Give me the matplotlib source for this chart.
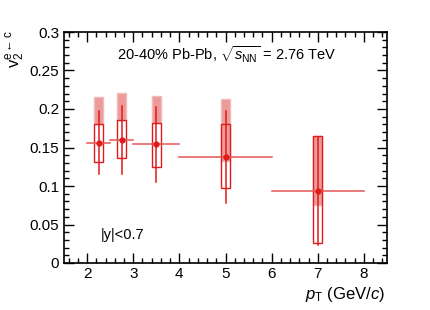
import matplotlib
matplotlib.use("Agg")
import matplotlib.pyplot as plt
from matplotlib.patches import Rectangle
from matplotlib.ticker import MultipleLocator, FuncFormatter

plt.rcParams['font.family'] = ['Liberation Sans', 'DejaVu Sans']
plt.rcParams['mathtext.fontset'] = 'custom'
plt.rcParams['mathtext.rm'] = 'Liberation Sans'
plt.rcParams['mathtext.it'] = 'Liberation Sans:italic'
plt.rcParams['mathtext.bf'] = 'Liberation Sans:bold'

# data
bin_lo = [2.0, 2.5, 3.0, 4.0, 6.0]
bin_hi = [2.5, 3.0, 4.0, 6.0, 8.0]
pt = [2.25, 2.75, 3.5, 5.0, 7.0]
v2 = [0.156, 0.160, 0.154, 0.138, 0.094]
stat = [0.041, 0.044, 0.049, 0.060, 0.070]
sys_lo = [0.131, 0.136, 0.125, 0.098, 0.026]
sys_hi = [0.181, 0.186, 0.182, 0.180, 0.165]
fill_lo = [0.181, 0.186, 0.182, 0.132, 0.075]
fill_hi = [0.215, 0.221, 0.217, 0.213, 0.165]

box_hw = 0.1
red = '#e01b1b'
xbar_col = '#e65555'

fig = plt.figure(figsize=(4.3, 3.1), dpi=100)
ax = fig.add_axes([64/430, 1-263/310, (387-64)/430, (263-32)/310])

for i in range(len(pt)):
    ax.add_patch(Rectangle((pt[i]-box_hw, fill_lo[i]), 2*box_hw, fill_hi[i]-fill_lo[i],
                           facecolor='#ec9a9a', edgecolor='#f3baba', lw=1.0, zorder=2))
    ax.add_patch(Rectangle((pt[i]-box_hw, sys_lo[i]), 2*box_hw, sys_hi[i]-sys_lo[i],
                           facecolor='none', edgecolor=red, lw=1.0, zorder=3))
    ax.plot([bin_lo[i], bin_hi[i]], [v2[i], v2[i]], color=xbar_col, lw=1.1, zorder=4)
    ax.plot([pt[i], pt[i]], [v2[i]-stat[i], v2[i]+stat[i]], color=red, lw=1.1, zorder=4)
ax.plot(pt, v2, 'o', color=red, ms=3.5, zorder=5)

ax.set_xlim(1.5, 8.5)
ax.set_ylim(0, 0.3)
ax.xaxis.set_major_locator(MultipleLocator(1))
ax.xaxis.set_minor_locator(MultipleLocator(0.2))
ax.yaxis.set_major_locator(MultipleLocator(0.05))
ax.yaxis.set_minor_locator(MultipleLocator(0.01))
ax.yaxis.set_major_formatter(FuncFormatter(lambda v, p: ('%g' % round(v, 3))))
ax.tick_params(which='both', direction='in', top=True, right=True, labelsize=11, width=1.0)
ax.tick_params(which='major', length=7)
ax.tick_params(which='minor', length=3.5)
ax.tick_params(axis='x', pad=3)
for s in ax.spines.values():
    s.set_linewidth(1.2)

ax.text(0.165, 0.90, r'20-40% Pb-Pb, $\sqrt{s_{\rm NN}}$ = 2.76 TeV', transform=ax.transAxes,
        fontsize=10.5, va='center', ha='left')
ax.text(0.115, 0.12, '|y|<0.7', transform=ax.transAxes, fontsize=10.5, va='center', ha='left')

fig.text(385/430, 1-295/310, r'$p_{\rm T}$ (GeV/$c$)', fontsize=12, ha='right', va='center')
fig.text(16/430, 1-30/310, r'$\mathrm{v}_{2}^{\mathrm{e}\leftarrow\mathrm{c}}$', fontsize=12,
         rotation=90, ha='center', va='top')

fig.savefig('out.png', dpi=100)
